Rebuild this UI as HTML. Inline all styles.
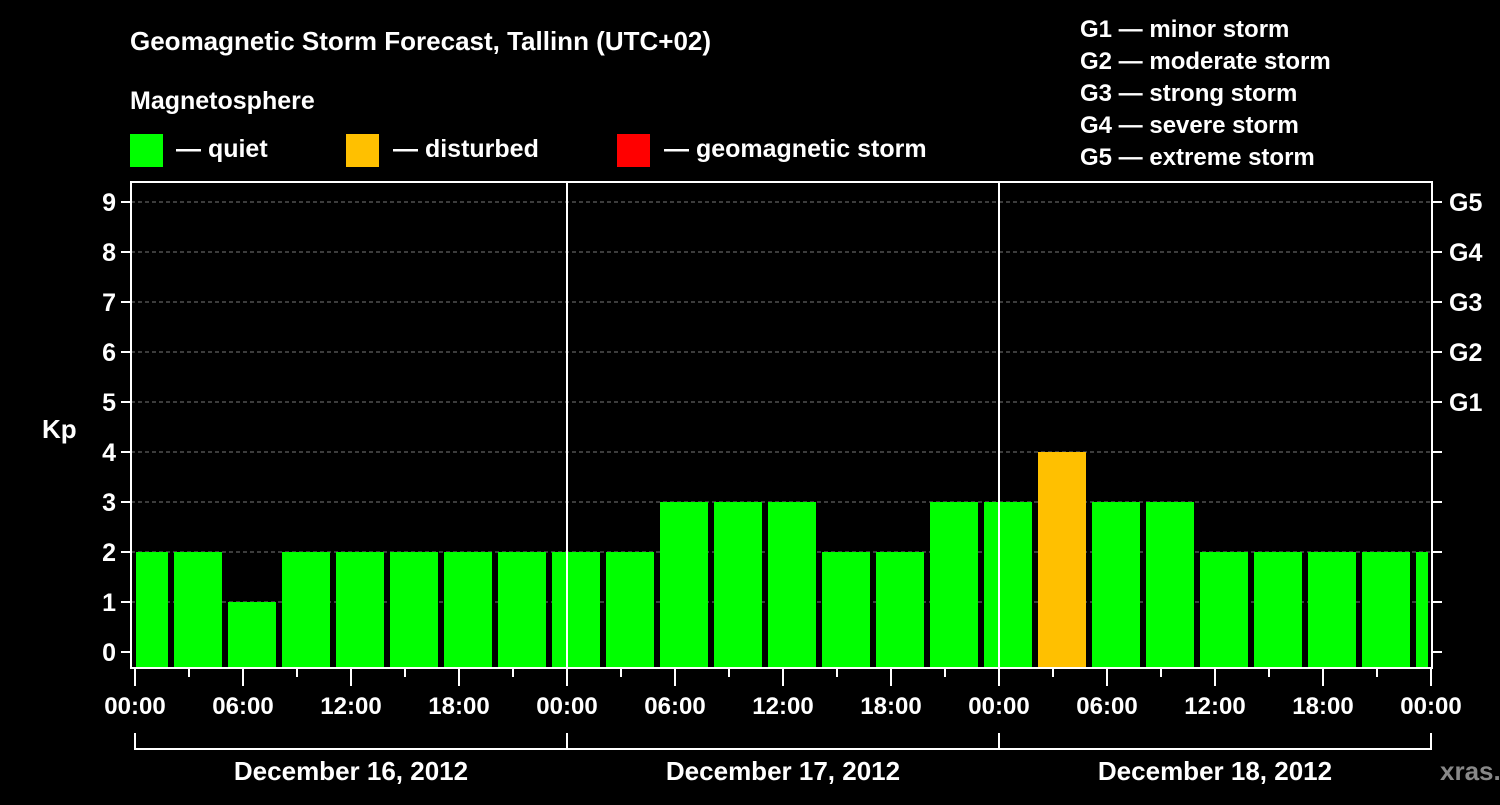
<!DOCTYPE html>
<html><head><meta charset="utf-8"><style>
body{margin:0;background:#000;}
svg text{font-family:"Liberation Sans",sans-serif;font-weight:bold;fill:#fff;}
</style></head><body>
<svg id="chart" width="1500" height="800" viewBox="0 0 1500 800">
<rect width="1500" height="800" fill="#000"/>
<text x="130" y="50" font-size="26">Geomagnetic Storm Forecast, Tallinn (UTC+02)</text>
<text x="130" y="109" font-size="25">Magnetosphere</text>
<g><rect x="130" y="134" width="33" height="33" fill="#00ff00"/><text x="176" y="157" font-size="25">— quiet</text></g>
<g><rect x="346" y="134" width="33" height="33" fill="#ffc000"/><text x="393" y="157" font-size="25">— disturbed</text></g>
<g><rect x="617" y="134" width="33" height="33" fill="#ff0000"/><text x="664" y="157" font-size="25">— geomagnetic storm</text></g>
<g font-size="24">
<text x="1080" y="37">G1 — minor storm</text>
<text x="1080" y="69">G2 — moderate storm</text>
<text x="1080" y="101">G3 — strong storm</text>
<text x="1080" y="133">G4 — severe storm</text>
<text x="1080" y="165">G5 — extreme storm</text>
</g>
<text x="42" y="438" font-size="26">Kp</text>
<defs><clipPath id="pc"><rect x="136" y="182" width="1292" height="486"/></clipPath></defs>
<g id="grid"></g>
<g id="bars" clip-path="url(#pc)"></g>
<g id="axes"></g>
<text x="1440" y="780" font-size="26" fill="#888" style="fill:#888">xras.ru</text>
</svg>
<script>
const kpValues=[2,2,1,2,2,2,2,2,2,2,3,3,3,2,2,3,3,4,3,3,2,2,2,2,2];
const yTicks=[0,1,2,3,4,5,6,7,8,9];
const gLabels=["G1","G2","G3","G4","G5"];
const xLabels=["00:00","06:00","12:00","18:00","00:00","06:00","12:00","18:00","00:00","06:00","12:00","18:00","00:00"];
const dayLabels=["December 16, 2012","December 17, 2012","December 18, 2012"];
const NS="http://www.w3.org/2000/svg";
const x0=135,pxH=18;
const xs=h=>x0+h*pxH;
const ys=v=>652-v*50;
function mk(t,a,p){const e=document.createElementNS(NS,t);for(const k in a)e.setAttribute(k,a[k]);p.appendChild(e);return e;}
const grid=document.getElementById('grid'),bars=document.getElementById('bars'),axes=document.getElementById('axes');
yTicks.forEach(v=>{if(v>0){const l=mk('line',{x1:131,x2:1432,y1:ys(v),y2:ys(v),stroke:'#777','stroke-dasharray':'4,3','stroke-width':1},grid);

}});
kpValues.forEach((v,i)=>{const c=xs(i*3-0.5+1);
const col=v>=5?'#ff0000':(v>=4?'#ffc000':'#00ff00');
const r=mk('rect',{x:c-24,y:ys(v),width:48,height:668-ys(v),fill:col},bars);

});
// day separators
[1,2].forEach(d=>{const l=mk('line',{x1:xs(d*24),x2:xs(d*24),y1:182,y2:668,stroke:'#fff','stroke-width':2},axes);

});
const frame=mk('rect',{x:131,y:182,width:1301,height:486,fill:'none',stroke:'#fff','stroke-width':2},axes);


yTicks.forEach(v=>{mk('line',{x1:121,x2:131,y1:ys(v),y2:ys(v),stroke:'#fff','stroke-width':2},axes);
mk('line',{x1:1432,x2:1442,y1:ys(v),y2:ys(v),stroke:'#fff','stroke-width':2},axes);
const t=mk('text',{x:116,y:ys(v)+9,'font-size':25,'text-anchor':'end'},axes);t.textContent=v;

});
gLabels.forEach((g,i)=>{const t=mk('text',{x:1449,y:ys(5+i)+9,'font-size':25},axes);t.textContent=g;

});
for(let h=0;h<=72;h+=3){const major=h%6===0;mk('line',{x1:xs(h),x2:xs(h),y1:669,y2:major?686:677,stroke:'#fff','stroke-width':2},axes);}
xLabels.forEach((s,i)=>{const t=mk('text',{x:xs(i*6),y:714,'font-size':24,'text-anchor':'middle'},axes);t.textContent=s;

});
mk('line',{x1:xs(0),x2:xs(72),y1:749,y2:749,stroke:'#fff','stroke-width':2},axes);
for(let d=0;d<=3;d++)mk('line',{x1:xs(d*24),x2:xs(d*24),y1:733,y2:750,stroke:'#fff','stroke-width':2},axes);
dayLabels.forEach((s,i)=>{const t=mk('text',{x:xs(i*24+12),y:780,'font-size':26,'text-anchor':'middle'},axes);t.textContent=s;

});
</script>
</body></html>
